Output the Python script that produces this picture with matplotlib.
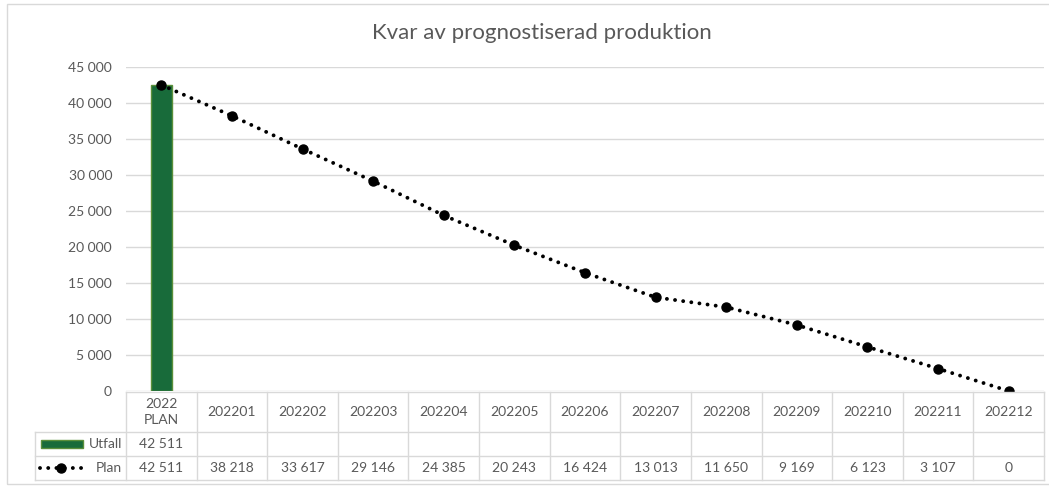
import matplotlib
matplotlib.use("Agg")
import matplotlib.pyplot as plt
from matplotlib.patches import Rectangle
from matplotlib.lines import Line2D

plt.rcParams['font.family'] = ['Lato', 'DejaVu Sans']

# data
categories = ["2022\nPLAN", "202201", "202202", "202203", "202204", "202205", "202206",
              "202207", "202208", "202209", "202210", "202211", "202212"]
utfall = [42511]
plan = [42511, 38218, 33617, 29146, 24385, 20243, 16424, 13013, 11650, 9169, 6123, 3107, 0]
yticks = list(range(0, 45001, 5000))

title = "Kvar av prognostiserad produktion"
bar_color = "#186b3a"
bar_edge = "#5b8f3a"
grid_color = "#d9d9d9"
text_color = "#595959"
dot_style = (0, (0.01, 2.1))

W, H = 1049, 487


def fx(px):
    return px / W


def fy(py):
    return 1 - py / H


def fmt(v):
    return "{:,}".format(v).replace(",", " ")


fig = plt.figure(figsize=(W / 100, H / 100), dpi=100)

# chart frame
fig.add_artist(Rectangle((fx(7), fy(484)), fx(1060) - fx(7), fy(4) - fy(484),
                         transform=fig.transFigure, fill=False, edgecolor=grid_color, lw=1))

x0, x1 = 126, 1044
ytop, ybot = 67, 391
ax = fig.add_axes([fx(x0), fy(ybot), fx(x1) - fx(x0), fy(ytop) - fy(ybot)])
n = len(categories)
xs = list(range(n))

ax.bar(xs[:len(utfall)], utfall, width=0.3, color=bar_color, edgecolor=bar_edge, lw=1, zorder=2)
ax.plot(xs, plan, color="black", lw=2.8, linestyle=dot_style, dash_capstyle='round',
        marker="o", markersize=6.5, zorder=3)

ax.set_xlim(-0.5, n - 0.5)
ax.set_ylim(0, 45000)
ax.set_yticks(yticks)
ax.set_yticklabels([fmt(v) for v in yticks], color=text_color, fontsize=10)
ax.tick_params(axis='y', length=0, pad=10)
ax.set_xticks([])
ax.grid(axis='y', color=grid_color, lw=1)
ax.set_axisbelow(True)
for s in ax.spines.values():
    s.set_visible(False)

fig.text(fx(542), fy(33), title, ha='center', va='center', fontsize=16, color=text_color)

# data table under the axis
cw = (x1 - x0) / n
rows = [392, 432, 456, 480]
tab_left = 35
line_kw = dict(color=grid_color, lw=1, transform=fig.transFigure)
fig.add_artist(Line2D([fx(x0), fx(x1)], [fy(rows[0])] * 2, **line_kw))
for r in rows[1:]:
    fig.add_artist(Line2D([fx(tab_left), fx(x1)], [fy(r)] * 2, **line_kw))
for i in range(n + 1):
    xp = x0 + i * cw
    fig.add_artist(Line2D([fx(xp)] * 2, [fy(rows[0]), fy(rows[-1])], **line_kw))
fig.add_artist(Line2D([fx(tab_left)] * 2, [fy(rows[1]), fy(rows[-1])], **line_kw))

for i, c in enumerate(categories):
    cx = x0 + (i + 0.5) * cw
    fig.text(fx(cx), fy((rows[0] + rows[1]) / 2), c, ha='center', va='center',
             fontsize=10, color=text_color, linespacing=1.45)
    fig.text(fx(cx), fy((rows[2] + rows[3]) / 2), fmt(plan[i]), ha='center', va='center',
             fontsize=10, color=text_color)
for i, v in enumerate(utfall):
    cx = x0 + (i + 0.5) * cw
    fig.text(fx(cx), fy((rows[1] + rows[2]) / 2), fmt(v), ha='center', va='center',
             fontsize=10, color=text_color)

# legend keys inside the table
ym = (rows[1] + rows[2]) / 2
fig.add_artist(Rectangle((fx(41), fy(ym + 4)), fx(83) - fx(41), fy(ym - 4) - fy(ym + 4),
                         transform=fig.transFigure, facecolor=bar_color, edgecolor=bar_edge, lw=1))
fig.text(fx(122), fy(ym), "Utfall", ha='right', va='center', fontsize=10, color=text_color)
ym2 = (rows[2] + rows[3]) / 2
fig.add_artist(Line2D([fx(40), fx(83)], [fy(ym2)] * 2, transform=fig.transFigure, color="black",
                      lw=2.8, linestyle=dot_style, dash_capstyle='round'))
fig.add_artist(Line2D([fx(61)], [fy(ym2)], transform=fig.transFigure, color="black",
                      marker="o", markersize=6.5))
fig.text(fx(122), fy(ym2), "Plan", ha='right', va='center', fontsize=10, color=text_color)

fig.savefig("out.png", dpi=100)
